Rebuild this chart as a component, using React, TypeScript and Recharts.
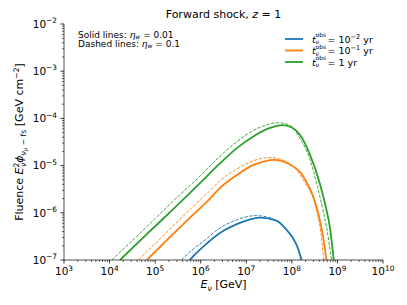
import React from "react";
import { LineChart, Line, XAxis, YAxis } from "recharts";

// ── Data (energy in GeV, fluence in GeV cm^-2) ──────────────────────────────

const blueSolidE = [5.75e5, 7.9e5, 1.12e6, 2.6e6, 6.2e6, 1.12e7, 2.0e7, 4.6e7, 7.6e7, 1.17e8, 1.41e8, 1.62e8];
const blueSolidF = [1e-7, 1.38e-7, 1.9e-7, 3.7e-7, 5.75e-7, 7.1e-7, 7.9e-7, 6.8e-7, 4.4e-7, 2.45e-7, 1.6e-7, 1e-7];

const blueDashE = [3.8e5, 6.3e5, 1.12e6, 2.6e6, 6.2e6, 1.55e7, 3.3e7, 6.5e7, 1.17e8, 1.41e8, 1.62e8];
const blueDashF = [1e-7, 1.6e-7, 2.45e-7, 4.7e-7, 7.1e-7, 8.7e-7, 7.9e-7, 5.1e-7, 2.45e-7, 1.6e-7, 1e-7];

const orangeSolidE = [6.6e4, 2.0e5, 6.3e5, 1.6e6, 2.6e6, 6.2e6, 1.4e7, 2.5e7, 4.2e7, 7.9e7, 1.8e8, 2.95e8, 4.1e8, 5.0e8, 5.75e8];
const orangeSolidF = [1e-7, 2.9e-7, 8.5e-7, 2.0e-6, 3.3e-6, 6.3e-6, 1.02e-5, 1.23e-5, 1.32e-5, 1.12e-5, 5.8e-6, 2.2e-6, 7.1e-7, 2.6e-7, 1e-7];

const orangeDashE = [4.3e4, 2.0e5, 6.3e5, 1.6e6, 2.6e6, 6.2e6, 1.4e7, 3.3e7, 7.1e7, 1.8e8, 3.5e8, 4.3e8, 5.0e8];
const orangeDashF = [1e-7, 4.3e-7, 1.26e-6, 2.95e-6, 4.7e-6, 8.5e-6, 1.26e-5, 1.48e-5, 1.26e-5, 4.9e-6, 1.15e-6, 4.0e-7, 1e-7];

const greenSolidE = [1.7e4, 6.3e4, 2.5e5, 1e6, 2.6e6, 6.2e6, 1.4e7, 3.2e7, 6.3e7, 1e8, 1.5e8, 2.45e8, 4.1e8, 5.75e8, 6.8e8, 8.3e8];
const greenSolidF = [1e-7, 3.4e-7, 1.2e-6, 4.4e-6, 1.1e-5, 2.35e-5, 4.1e-5, 6.2e-5, 7.2e-5, 6.4e-5, 4.5e-5, 1.8e-5, 4.2e-6, 1.15e-6, 5.1e-7, 1e-7];

const greenDashE = [1.12e4, 6.3e4, 2.5e5, 1e6, 2.6e6, 6.2e6, 1.4e7, 2.8e7, 5.0e7, 8.9e7, 1.5e8, 2.45e8, 3.5e8, 4.8e8, 6.0e8, 7.4e8];
const greenDashF = [1e-7, 4.9e-7, 1.78e-6, 6.2e-6, 1.55e-5, 3.2e-5, 5.5e-5, 7.3e-5, 8.1e-5, 7.2e-5, 3.8e-5, 1.41e-5, 4.2e-6, 1.15e-6, 4.0e-7, 1e-7];

const xDecades = [1e3, 1e4, 1e5, 1e6, 1e7, 1e8, 1e9, 1e10];
const yDecades = [1e-7, 1e-6, 1e-5, 1e-4, 1e-3, 1e-2];
const minorFactors = [2, 3, 4, 5, 6, 7, 8, 9];

const legendLabels = ["10", "10", "1"];
const legendExps = ["−2", "−1", ""];

// ── Layout ───────────────────────────────────────────────────────────────────

const W = 407;
const H = 305;
const LEFT = 64;
const TOP = 24;
const RIGHT = 383;
const BOTTOM = 260;
const FONT = "'DejaVu Sans', sans-serif";

const BLUE = "#1f77b4";
const ORANGE = "#ff7f0e";
const GREEN = "#2ca02c";

const zip = (e: number[], f: number[]) => e.map((v, i) => ({ e: v, f: f[i] }));

const withMinors = (decades: number[]) => {
  const out: number[] = [];
  decades.forEach((d, i) => {
    out.push(d);
    if (i < decades.length - 1) minorFactors.forEach((m) => out.push(d * m));
  });
  return out;
};

const isMajor = (v: number) => Math.abs(Math.log10(v) - Math.round(Math.log10(v))) < 1e-6;
const expText = (v: number) => {
  const n = Math.round(Math.log10(v));
  return n < 0 ? `−${-n}` : `${n}`;
};

function XTick(props: any) {
  const { x, payload } = props;
  const v = payload.value;
  const major = isMajor(v);
  return (
    <g>
      <line x1={x} x2={x} y1={BOTTOM} y2={BOTTOM + (major ? 3.5 : 2)} stroke="#000" strokeWidth={major ? 0.8 : 0.6} />
      {major && (
        <text x={x} y={BOTTOM + 15} textAnchor="middle" fontSize={10.5} fontFamily={FONT} fill="#000">
          10<tspan dy={-4.5} fontSize={7.4}>{expText(v)}</tspan>
        </text>
      )}
    </g>
  );
}

function YTick(props: any) {
  const { y, payload } = props;
  const v = payload.value;
  const major = isMajor(v);
  return (
    <g>
      <line x1={LEFT} x2={LEFT - (major ? 3.5 : 2)} y1={y} y2={y} stroke="#000" strokeWidth={major ? 0.8 : 0.6} />
      {major && (
        <text x={LEFT - 7} y={y + 3.7} textAnchor="end" fontSize={10.5} fontFamily={FONT} fill="#000">
          10<tspan dy={-4.5} fontSize={7.4}>{expText(v)}</tspan>
        </text>
      )}
    </g>
  );
}

function Overlay() {
  const legendColors = [BLUE, ORANGE, GREEN];
  const legendY = [39, 50.5, 62];
  return (
    <svg width={W} height={H} style={{ position: "absolute", left: 0, top: 0, pointerEvents: "none" }} fontFamily={FONT}>
      {/* title */}
      <text x={(LEFT + RIGHT) / 2} y={18} textAnchor="middle" fontSize={11}>
        Forward shock, <tspan fontStyle="italic">z</tspan> = 1
      </text>

      {/* note */}
      <text fontSize={9}>
        <tspan x={78} y={37.5}>Solid lines: </tspan>
        <tspan fontStyle="italic">η</tspan>
        <tspan fontStyle="italic" fontSize={6} dy={1.5}>w</tspan>
        <tspan dy={-1.5}> = 0.01</tspan>
        <tspan x={78} y={46.5}>Dashed lines: </tspan>
        <tspan fontStyle="italic">η</tspan>
        <tspan fontStyle="italic" fontSize={6} dy={1.5}>w</tspan>
        <tspan dy={-1.5}> = 0.1</tspan>
      </text>

      {/* legend */}
      {legendY.map((y, i) => (
        <line key={i} x1={285} x2={303} y1={y} y2={y} stroke={legendColors[i]} strokeWidth={1.8} />
      ))}
      <text fontSize={9.5}>
        {legendY.map((y, i) => (
          <React.Fragment key={i}>
            <tspan x={312} y={y + 3.5} fontStyle="italic">t</tspan>
            <tspan x={315.5} y={y - 1.8} fontSize={6}>obs</tspan>
            <tspan x={315.5} y={y + 5.2} fontSize={6} fontStyle="italic">ν</tspan>
            <tspan x={327.5} y={y + 3.5}>= {legendLabels[i]}</tspan>
            {legendExps[i] && <tspan dy={-4} fontSize={6.6}>{legendExps[i]}</tspan>}
            <tspan dy={legendExps[i] ? 4 : 0}> yr</tspan>
          </React.Fragment>
        ))}
      </text>

      {/* x label */}
      <text x={(LEFT + RIGHT) / 2} y={288} textAnchor="middle" fontSize={11}>
        <tspan fontStyle="italic">E</tspan>
        <tspan fontStyle="italic" fontSize={7.7} dy={2.5}>ν</tspan>
        <tspan dy={-2.5}> [GeV]</tspan>
      </text>

      {/* y label */}
      <text transform={`translate(23,${(TOP + BOTTOM) / 2}) rotate(-90)`} textAnchor="middle" fontSize={11}>
        Fluence <tspan fontStyle="italic">E</tspan>
        <tspan fontSize={7.7} dy={-4.5}>2</tspan>
        <tspan fontSize={7.7} fontStyle="italic" dx={-4.5} dy={7}>ν</tspan>
        <tspan fontStyle="italic" dy={-2.5}>ϕ</tspan>
        <tspan fontSize={7.7} fontStyle="italic" dy={2.5}>ν</tspan>
        <tspan fontSize={5.5} fontStyle="italic" dy={1.5}>μ</tspan>
        <tspan fontSize={7.7} dy={-1.5}> − fs</tspan>
        <tspan dy={-2.5}> [GeV cm</tspan>
        <tspan fontSize={7.7} dy={-4.5}>−2</tspan>
        <tspan dy={4.5}>]</tspan>
      </text>
    </svg>
  );
}

export default function App() {
  const xTicks = withMinors(xDecades);
  const yTicks = withMinors(yDecades);
  const axisLine = { stroke: "#222", strokeWidth: 0.8 };
  const dash = "3.3 1.5";

  return (
    <div style={{ position: "absolute", left: 0, top: 0, width: W, height: H, background: "#fff" }}>
      <LineChart width={W} height={H} margin={{ top: TOP, right: W - RIGHT, left: 0, bottom: 0 }}>
        <XAxis
          dataKey="e"
          type="number"
          scale="log"
          domain={[1e3, 1e10]}
          allowDataOverflow
          ticks={xTicks}
          interval={0}
          tick={<XTick />}
          tickLine={false}
          tickSize={0}
          tickMargin={0}
          axisLine={axisLine}
          height={H - BOTTOM}
        />
        <XAxis xAxisId="top" orientation="top" type="number" scale="log" domain={[1e3, 1e10]} allowDataOverflow tick={false} tickLine={false} axisLine={axisLine} height={0} />
        <YAxis
          type="number"
          scale="log"
          domain={[1e-7, 1e-2]}
          allowDataOverflow
          ticks={yTicks}
          interval={0}
          tick={<YTick />}
          tickLine={false}
          tickSize={0}
          tickMargin={0}
          axisLine={axisLine}
          width={LEFT}
        />
        <YAxis yAxisId="right" orientation="right" type="number" scale="log" domain={[1e-7, 1e-2]} allowDataOverflow tick={false} tickLine={false} axisLine={axisLine} width={0} />

        <Line data={zip(blueSolidE, blueSolidF)} dataKey="f" type="monotone" stroke={BLUE} strokeWidth={1.8} dot={false} isAnimationActive={false} />
        <Line data={zip(orangeSolidE, orangeSolidF)} dataKey="f" type="monotone" stroke={ORANGE} strokeWidth={1.8} dot={false} isAnimationActive={false} />
        <Line data={zip(greenSolidE, greenSolidF)} dataKey="f" type="monotone" stroke={GREEN} strokeWidth={1.8} dot={false} isAnimationActive={false} />
        <Line data={zip(blueDashE, blueDashF)} dataKey="f" type="monotone" stroke={BLUE} strokeWidth={0.9} strokeDasharray={dash} dot={false} isAnimationActive={false} />
        <Line data={zip(orangeDashE, orangeDashF)} dataKey="f" type="monotone" stroke={ORANGE} strokeWidth={0.9} strokeDasharray={dash} dot={false} isAnimationActive={false} />
        <Line data={zip(greenDashE, greenDashF)} dataKey="f" type="monotone" stroke={GREEN} strokeWidth={0.9} strokeDasharray={dash} dot={false} isAnimationActive={false} />
      </LineChart>
      <Overlay />
    </div>
  );
}
